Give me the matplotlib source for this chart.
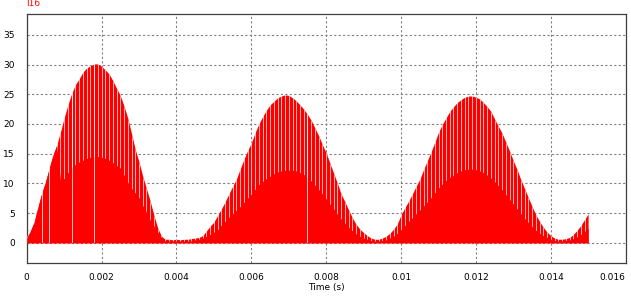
import numpy as np
import matplotlib
matplotlib.use("Agg")
import matplotlib.pyplot as plt

### data (one value per 0.1 ms switching period) ###
time_s = np.round(np.arange(151) * 1e-4, 4)

# top of each switching pulse
i_peak = [
    0.8, 2.0, 3.5, 6.0, 8.3, 10.2, 12.5, 14.7, 16.4, 18.6,
    21.0, 23.2, 25.1, 26.6, 27.6, 28.7, 29.4, 29.8, 30.1, 30.1,
    29.7, 29.1, 28.4, 27.3, 26.0, 24.8, 23.0, 21.0, 18.4, 15.7,
    13.6, 11.2, 9.1, 7.0, 4.6, 2.5, 1.1, 0.6, 0.6, 0.5,
    0.6, 0.5, 0.6, 0.6, 0.7, 0.8, 0.9, 1.2, 2.0, 2.8,
    3.5, 4.6, 5.7, 6.9, 8.2, 9.5, 10.7, 12.4, 14.0, 15.5,
    16.8, 18.5, 20.0, 21.2, 22.3, 23.2, 23.8, 24.4, 24.7, 24.9,
    24.8, 24.4, 23.9, 23.2, 22.5, 21.6, 20.6, 19.3, 18.0, 16.5,
    15.1, 13.4, 11.7, 10.0, 8.2, 6.9, 5.5, 4.2, 3.1, 2.3,
    1.7, 1.2, 0.8, 0.6, 0.6, 0.8, 1.1, 1.6, 2.3, 3.2,
    4.7, 5.9, 7.0, 8.2, 9.5, 10.7, 12.3, 13.8, 15.3, 16.9,
    18.6, 19.9, 21.0, 22.1, 22.9, 23.6, 24.1, 24.5, 24.7, 24.7,
    24.5, 24.2, 23.6, 22.9, 22.1, 20.8, 19.6, 18.4, 16.9, 15.4,
    13.8, 12.3, 10.6, 9.1, 7.6, 6.1, 4.7, 3.6, 2.6, 1.8,
    1.2, 0.8, 0.6, 0.6, 0.7, 0.9, 1.4, 2.1, 2.9, 3.9,
    4.9,
]

# top of the solid (densely filled) part
i_base = [
    0.8, 2.0, 3.5, 6.0, 8.3, 10.2, 12.5, 14.7, 16.4, 10.6,
    10.8, 11.8, 12.6, 13.2, 13.6, 13.9, 14.2, 14.4, 14.5, 14.5,
    14.4, 14.2, 13.9, 13.5, 13.0, 12.6, 11.4, 10.2, 9.2, 8.4,
    7.6, 6.3, 5.1, 3.8, 2.8, 1.8, 0.9, 0.3, 0.3, 0.3,
    0.3, 0.3, 0.3, 0.3, 0.3, 0.5, 0.6, 0.8, 1.1, 1.4,
    1.8, 2.2, 3.0, 3.6, 4.3, 4.9, 5.5, 6.1, 6.8, 7.5,
    8.2, 9.0, 9.8, 10.3, 10.8, 11.2, 11.6, 11.9, 12.1, 12.2,
    12.2, 12.2, 12.1, 11.8, 11.5, 11.0, 10.4, 9.7, 9.0, 8.2,
    7.4, 6.5, 5.7, 4.8, 4.0, 3.3, 2.6, 2.0, 1.5, 1.1,
    0.8, 0.6, 0.4, 0.3, 0.3, 0.4, 0.5, 0.8, 1.1, 1.6,
    2.2, 2.9, 3.6, 4.2, 4.9, 5.5, 6.2, 6.9, 7.6, 8.4,
    9.2, 9.9, 10.5, 11.0, 11.4, 11.8, 12.1, 12.3, 12.4, 12.4,
    12.3, 12.1, 11.8, 11.4, 10.9, 10.3, 9.6, 8.9, 8.1, 7.3,
    6.5, 5.7, 4.9, 4.1, 3.4, 2.7, 2.1, 1.6, 1.2, 0.9,
    0.6, 0.4, 0.3, 0.3, 0.4, 0.5, 0.7, 1.0, 1.4, 1.9,
    2.4,
]

# periods where the trace drops right to zero
dropout_s = [0.0004, 0.0006, 0.0012, 0.0018, 0.0075]

x_ticks = [0, 0.002, 0.004, 0.006, 0.008, 0.01, 0.012, 0.014, 0.016]
x_tick_labels = ["0", "0.002", "0.004", "0.006", "0.008", "0.01", "0.012", "0.014", "0.016"]
y_ticks = [0, 5, 10, 15, 20, 25, 30, 35]

RED = "#ff0000"

fig = plt.figure(figsize=(6.31, 2.98), dpi=100)
ax = fig.add_axes([0.0423, 0.1174, 0.9493, 0.8356])

# whole envelope
env = ax.fill_between(time_s, 0, i_peak, color=RED, lw=0, zorder=2)
clip = (env.get_paths()[0], env.get_transform())

# white slits between switching pulses, only above the solid part
slits = ax.vlines(time_s, 0, 40, color="white", lw=0.55, alpha=0.9, zorder=3)
slits.set_clip_path(*clip)
ax.fill_between(time_s, 0, i_base, color=RED, lw=0, zorder=4)

drops = ax.vlines(dropout_s, 0, 40, color="white", lw=0.6, alpha=0.9, zorder=5)
drops.set_clip_path(*clip)

ax.set_xlim(0, 0.016)
ax.set_ylim(-3.4, 38.5)
ax.set_xticks(x_ticks)
ax.set_xticklabels(x_tick_labels)
ax.set_yticks(y_ticks)
ax.tick_params(axis="both", length=0, labelsize=6.5, colors="black")
ax.tick_params(axis="x", pad=7)
ax.tick_params(axis="y", pad=8.5)
# last label sits inside the frame, like the scope software does
ax.get_xticklabels()[-1].set_horizontalalignment("right")

ax.set_axisbelow(True)
ax.grid(True, color="#808080", linestyle=(0, (2, 2)), linewidth=0.8)
for s in ax.spines.values():
    s.set_color("#404040")
    s.set_linewidth(0.9)

ax.set_xlabel("Time (s)", fontsize=6.5, labelpad=1)
fig.text(0.042, 1 - 6.5 / 298, "I16", color=RED, fontsize=6.5, va="baseline", ha="left")

fig.savefig("out.png", dpi=100)
